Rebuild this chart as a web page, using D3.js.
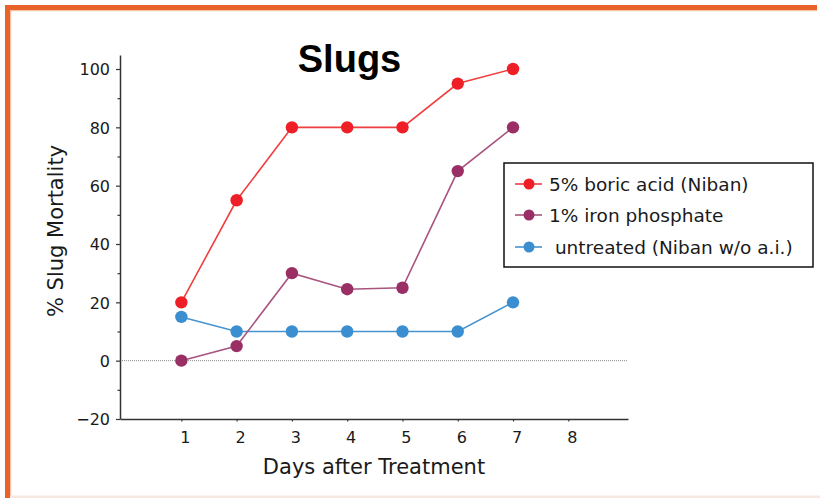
<!DOCTYPE html>
<html>
<head>
<meta charset="utf-8">
<script src="https://cdn.jsdelivr.net/npm/d3@7"></script>
<style>
  html, body { margin: 0; padding: 0; background: #fff; }
  svg { display: block; }
</style>
</head>
<body>
<div id="chart"></div>
<script>
// ---- data ----
const days = [1, 2, 3, 4, 5, 6, 7];
const boricAcid = [20, 55, 80, 80, 80, 95, 100];
const ironPhosphate = [0, 5, 30, 24.5, 25, 65, 80];
const untreated = [15, 10, 10, 10, 10, 10, 20];
const seriesNames = ["5% boric acid (Niban)", "1% iron phosphate", " untreated (Niban w/o a.i.)"];
const xTickValues = [1, 2, 3, 4, 5, 6, 7, 8];
const yTickValues = [-20, 0, 20, 40, 60, 80, 100];
const yMinorTicks = [-10, 10, 30, 50, 70, 90];
const titleText = "Slugs";
const xTitle = "Days after Treatment";
const yTitle = "% Slug Mortality";

const W = 820, H = 498;
const svg = d3.select("#chart").append("svg").attr("width", W).attr("height", H);

// frame (orange slide border)
svg.append("rect").attr("x", 5).attr("y", 10).attr("width", 812).attr("height", 1.2).attr("fill", "#f6c2a6");
svg.append("rect").attr("x", 10).attr("y", 10).attr("width", 1.2).attr("height", 488).attr("fill", "#f6c2a6");
svg.append("rect").attr("x", 5).attr("y", 5).attr("width", 812).attr("height", 5).attr("fill", "#e8622a");
svg.append("rect").attr("x", 5).attr("y", 5).attr("width", 5).attr("height", 493).attr("fill", "#e8622a");
svg.append("rect").attr("x", 10).attr("y", 495.5).attr("width", 810).attr("height", 2.5).attr("fill", "#f7e8e2");

// scales
const x = d3.scaleLinear().domain([-0.11, 9.08]).range([120, 628]);
const y = d3.scaleLinear().domain([-20, 104.8]).range([419, 55]);

const font = "'DejaVu Sans', Verdana, sans-serif";

// zero dotted line
svg.append("line")
  .attr("x1", x(-0.11)).attr("x2", x(9.08))
  .attr("y1", y(0)).attr("y2", y(0))
  .attr("stroke", "#8a8a8a").attr("stroke-width", 1).attr("stroke-dasharray", "1,1");

// y axis
const yAxis = svg.append("g").attr("transform", "translate(120,0)")
  .call(d3.axisLeft(y).tickValues(yTickValues).tickSize(4).tickSizeOuter(0).tickPadding(6)
        .tickFormat(d => d < 0 ? "\u2212" + Math.abs(d) : d));
yAxis.select(".domain").attr("stroke", "#333").attr("stroke-width", 1.5);
yAxis.selectAll(".tick line").attr("stroke", "#333").attr("stroke-width", 1.2);
yAxis.selectAll(".tick text").attr("font-family", font).attr("font-size", 16).attr("fill", "#1a1a1a").attr("dy", "0.36em");
const yMinor = svg.append("g").attr("transform", "translate(120,0)")
  .call(d3.axisLeft(y).tickValues(yMinorTicks).tickSize(2.5).tickSizeOuter(0).tickFormat(""));
yMinor.select(".domain").remove();
yMinor.selectAll(".tick line").attr("stroke", "#333").attr("stroke-width", 1.2);

// x axis
const xAxis = svg.append("g").attr("transform", `translate(0,${y(-20)})`)
  .call(d3.axisBottom(x).tickValues(xTickValues).tickSize(2.5).tickSizeOuter(0).tickPadding(10)
        .tickFormat(d3.format("d")));
xAxis.select(".domain").attr("stroke", "#333").attr("stroke-width", 1.5);
xAxis.selectAll(".tick line").attr("stroke", "#333").attr("stroke-width", 1.2);
xAxis.selectAll(".tick text").attr("font-family", font).attr("font-size", 16).attr("fill", "#1a1a1a").attr("dx", 3.5);

// axis titles
svg.append("text").attr("x", 374).attr("y", 474).attr("text-anchor", "middle")
  .attr("font-family", font).attr("font-size", 21).attr("fill", "#1a1a1a").text(xTitle);
svg.append("text").attr("transform", "translate(63,231) rotate(-90)").attr("text-anchor", "middle")
  .attr("font-family", font).attr("font-size", 21).attr("fill", "#1a1a1a").text(yTitle);

// title
svg.append("text").attr("x", 349.5).attr("y", 72).attr("text-anchor", "middle")
  .attr("font-family", "'Liberation Sans', Arial, Helvetica, sans-serif").attr("font-weight", "bold")
  .attr("font-size", 38).attr("fill", "#000").text(titleText);

// series
const series = [
  { name: seriesNames[0], values: boricAcid, line: "#f03e3e", dot: "#ee1f27" },
  { name: seriesNames[1], values: ironPhosphate, line: "#a8547f", dot: "#9a2f65" },
  { name: seriesNames[2], values: untreated, line: "#4694cf", dot: "#3b8ecf" }
];
const lineGen = d3.line().x((d, i) => x(days[i])).y(d => y(d));
// draw in order: untreated, iron, boric (boric on top)
[2, 1, 0].forEach(k => {
  const s = series[k];
  const g = svg.append("g");
  g.append("path").attr("d", lineGen(s.values)).attr("fill", "none")
    .attr("stroke", s.line).attr("stroke-width", 1.6);
  g.selectAll("circle").data(s.values).enter().append("circle")
    .attr("cx", (d, i) => x(days[i])).attr("cy", d => y(d)).attr("r", 6.2)
    .attr("fill", s.dot);
});

// legend
const lg = svg.append("g");
lg.append("rect").attr("x", 504).attr("y", 163).attr("width", 309).attr("height", 104)
  .attr("fill", "#fff").attr("stroke", "#111").attr("stroke-width", 1.5);
const rowY = [184, 215, 247];
series.forEach((s, k) => {
  lg.append("line").attr("x1", 515).attr("x2", 542).attr("y1", rowY[k]).attr("y2", rowY[k])
    .attr("stroke", s.line).attr("stroke-width", 1.6);
  lg.append("circle").attr("cx", 529).attr("cy", rowY[k]).attr("r", 5.5).attr("fill", s.dot);
  lg.append("text").attr("x", 549).attr("y", rowY[k] + 7).attr("xml:space", "preserve")
    .style("white-space", "pre")
    .attr("font-family", font).attr("font-size", 18.5).attr("fill", "#1a1a1a").text(s.name);
});
</script>
</body>
</html>
